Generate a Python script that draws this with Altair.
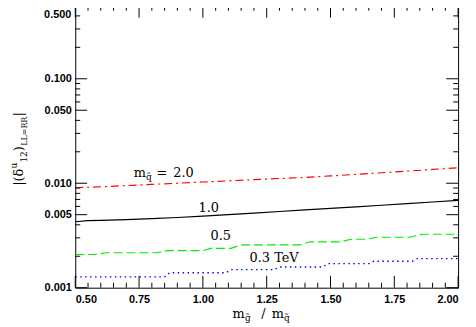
import altair as alt
import pandas as pd

# ---------------- data ----------------
RED_X = [0.5, 0.6, 0.7, 0.8, 0.9, 1.0, 1.1, 1.2, 1.3, 1.4, 1.5, 1.6, 1.7, 1.8, 1.9, 2.0]
RED = [0.00905, 0.00925, 0.00949, 0.00975, 0.0100, 0.01027, 0.01054, 0.01082,
       0.01111, 0.01138, 0.01175, 0.01215, 0.0126, 0.01305, 0.01355, 0.01409]

BLACK_X = [0.5, 0.55, 0.6, 0.7, 0.8, 0.9, 1.0, 1.1, 1.2, 1.3, 1.4, 1.5, 1.6, 1.7, 1.8, 1.9, 2.0]
BLACK = [0.00428, 0.00439, 0.00441, 0.00448, 0.00458, 0.0047, 0.00485, 0.00501, 0.00518,
         0.00536, 0.00555, 0.00575, 0.00595, 0.00616, 0.00638, 0.00661, 0.00686]

GREEN_X = [0.50, 0.58, 0.62, 0.82, 0.86, 1.00, 1.03, 1.11, 1.15, 1.38, 1.42, 1.54,
           1.58, 1.64, 1.68, 1.81, 1.86, 2.00]
GREEN = [0.00208, 0.00208, 0.00216, 0.00216, 0.00226, 0.00226, 0.00238, 0.00238,
         0.00257, 0.00257, 0.00275, 0.00275, 0.00291, 0.00291, 0.00304, 0.00304,
         0.00325, 0.00325]

BLUE_X = [0.50, 0.85, 0.87, 1.09, 1.11, 1.28, 1.30, 1.47, 1.49, 1.65, 1.67, 1.82, 1.84, 2.00]
BLUE = [0.00127, 0.00127, 0.00139, 0.00139, 0.00149, 0.00149, 0.00158, 0.00158,
        0.0017, 0.0017, 0.00179, 0.00179, 0.0019, 0.0019]

# curve labels (data coordinates)
LABEL_TEXT = ["1.0", "0.5", "0.3 TeV"]
LABEL_X = [1.023, 1.07, 1.279]
LABEL_Y = [0.00573, 0.00311, 0.00192]
RED_LABEL_X = 0.729
RED_LABEL_Y = 0.01255

# axis ticks
X_MAJOR = [0.5, 0.75, 1.0, 1.25, 1.5, 1.75, 2.0]
X_MINOR = [0.55, 0.6, 0.65, 0.7, 0.8, 0.85, 0.9, 0.95, 1.05, 1.1, 1.15, 1.2,
           1.3, 1.35, 1.4, 1.45, 1.55, 1.6, 1.65, 1.7, 1.8, 1.85, 1.9, 1.95]
Y_MAJOR = [0.5, 0.1, 0.05, 0.01, 0.005, 0.001]
Y_MINOR = [0.4, 0.3, 0.2, 0.09, 0.08, 0.07, 0.06, 0.04, 0.03, 0.02,
           0.009, 0.008, 0.007, 0.006, 0.004, 0.003, 0.002]

W, H = 387, 285
SERIF = "DejaVu Serif"
SANS = "Liberation Sans"

xs = alt.Scale(domain=[0.5, 2.0], nice=False, zero=False)
ys = alt.Scale(type="log", domain=[0.001, 0.5], nice=False)

XAX = alt.Axis(values=X_MAJOR, format=".2f", ticks=False, domain=False, grid=False,
               labelFont=SANS, labelFontWeight="bold", labelFontSize=11,
               labelColor="black", labelPadding=6, title=None)
YAX = alt.Axis(values=Y_MAJOR[1:], format=".3f", ticks=False, domain=False, grid=False,
               labelFont=SANS, labelFontWeight="bold", labelFontSize=11,
               labelColor="black", labelPadding=4, title=None)


def X(field="x"):
    return alt.X(f"{field}:Q", scale=xs, axis=XAX)


def Y(field="v"):
    return alt.Y(f"{field}:Q", scale=ys, axis=YAX)


def series(xv, yv, color, dash=None, width=1.2):
    df = pd.DataFrame({"x": xv, "v": yv})
    kw = dict(color=color, strokeWidth=width, clip=True)
    if dash:
        kw["strokeDash"] = dash
    return alt.Chart(df).mark_line(**kw).encode(x=X(), y=Y(), order="x:Q")


def yticks(values, length, side):
    df = pd.DataFrame({"v": values})
    if side == "left":
        xe, x2e = alt.value(0), alt.value(length)
    else:
        xe, x2e = alt.value(W - length), alt.value(W)
    return alt.Chart(df).mark_rule(color="black", strokeWidth=1).encode(y=Y(), x=xe, x2=x2e)


def xticks(values, length, side):
    df = pd.DataFrame({"x": values})
    if side == "bottom":
        ye, y2e = alt.value(H), alt.value(H - length)
    else:
        ye, y2e = alt.value(0), alt.value(length)
    return alt.Chart(df).mark_rule(color="black", strokeWidth=1).encode(x=X(), y=ye, y2=y2e)


def dlabel(text, x, y, size=13, dx=0, dy=0, align="left", baseline="middle", font=SERIF,
           weight="normal"):
    df = pd.DataFrame({"x": [x], "v": [y], "t": [text]})
    return alt.Chart(df).mark_text(font=font, fontSize=size, dx=dx, dy=dy, align=align,
                                   baseline=baseline, color="black", fontWeight=weight).encode(
        x=X(), y=Y(), text="t:N")


def plabel(text, px, py, size=13, dx=0, dy=0, angle=0, align="left", baseline="alphabetic"):
    df = pd.DataFrame({"t": [text]})
    kw = dict(font=SERIF, fontSize=size, dx=dx, dy=dy, align=align, baseline=baseline,
              color="black")
    if angle:
        kw["angle"] = angle
    return alt.Chart(df).mark_text(**kw).encode(
        x=alt.value(px), y=alt.value(py), text="t:N")


layers = [
    series(RED_X, RED, "#ff0000", dash=[8, 4, 2, 4]),
    series(BLACK_X, BLACK, "#000000"),
    series(GREEN_X, GREEN, "#00ee00", dash=[9, 4]),
    series(BLUE_X, BLUE, "#0000ff", dash=[1.5, 3.5], width=1.4),
    yticks(Y_MAJOR, 12, "left"), yticks(Y_MINOR, 5, "left"),
    yticks(Y_MAJOR, 12, "right"), yticks(Y_MINOR, 5, "right"),
    xticks(X_MAJOR, 12, "bottom"), xticks(X_MINOR, 5, "bottom"),
    xticks(X_MAJOR, 12, "top"), xticks(X_MINOR, 5, "top"),
]

# curve labels
for t, lx, ly in zip(LABEL_TEXT, LABEL_X, LABEL_Y):
    layers.append(dlabel(t, lx, ly, align="center"))
layers += [
    dlabel("m", RED_LABEL_X, RED_LABEL_Y),
    dlabel("q\u0303", RED_LABEL_X, RED_LABEL_Y, size=9, dx=12.5, dy=4),
    dlabel("=", RED_LABEL_X, RED_LABEL_Y, dx=23),
    dlabel("2.0", RED_LABEL_X, RED_LABEL_Y, dx=40),
]

# the top y tick label (kept inside the visible canvas)
layers.append(dlabel("0.500", 0.5, 0.5, size=11, dx=-4, dy=3, align="right", baseline="top",
                     font=SANS, weight="bold"))

# x axis title: m_g~ / m_q~
XT_Y = 316
layers += [
    plabel("m", 159, XT_Y),
    plabel("g\u0303", 171.5, XT_Y + 3, size=9),
    plabel("/", 188, XT_Y),
    plabel("m", 198.5, XT_Y),
    plabel("q\u0303", 211, XT_Y + 3, size=9),
]

# y axis title: |(delta^u_12)_LL=RR|
YT_X, YT_Y = -53, 182
layers += [
    plabel("|(\u03b4", YT_X, YT_Y, angle=270),
    plabel("u", YT_X, YT_Y, size=9, dx=17.5, dy=-6, angle=270),
    plabel("12", YT_X, YT_Y, size=9, dx=23.5, dy=4, angle=270),
    plabel(")", YT_X, YT_Y, dx=35, angle=270),
    plabel("LL=RR", YT_X, YT_Y, size=8, dx=40.5, dy=4, angle=270),
    plabel("|", YT_X, YT_Y, dx=70, angle=270),
]

chart = alt.layer(*layers).properties(
    width=W, height=H, autosize="none",
    padding={"left": 68, "top": -4, "right": 10, "bottom": 39},
    background="white",
).configure_view(stroke="black", strokeWidth=1)

chart.save("out.html", embed_options={"renderer": "svg", "actions": False})
